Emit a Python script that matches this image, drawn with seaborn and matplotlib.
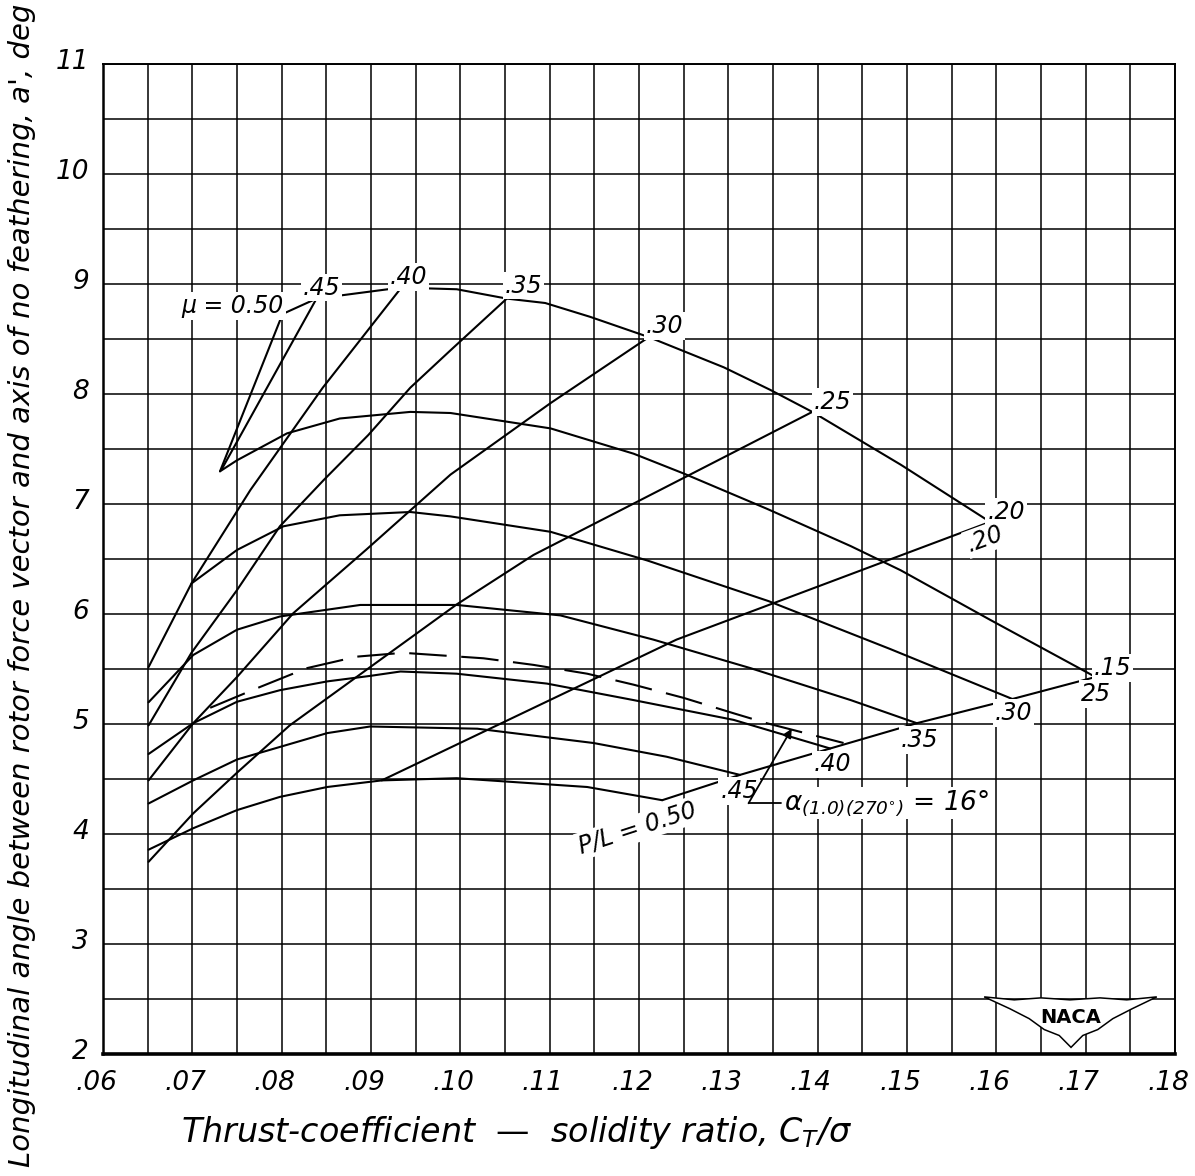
import matplotlib
matplotlib.use("Agg")
import numpy as np
import pandas as pd
import matplotlib.pyplot as plt
import seaborn as sns
from matplotlib.patches import Polygon
from matplotlib.ticker import MultipleLocator, FuncFormatter
from matplotlib.transforms import ScaledTranslation

# ---------------------------------------------------------------------------
# Carpet of a' (deg) against C_T/sigma
# Lines of constant tip-speed ratio mu
mu_050_x = [0.0731, 0.0801]
mu_050_y = [7.30, 8.73]
mu_045_x = [0.0733, 0.0839]
mu_045_y = [7.32, 8.87]
mu_040_x = [0.0651, 0.0699, 0.0765, 0.0846, 0.0933]
mu_040_y = [5.52, 6.28, 7.13, 8.06, 8.96]
mu_035_x = [0.0651, 0.0699, 0.0750, 0.0798, 0.0847, 0.0897, 0.0944, 0.0989, 0.1052]
mu_035_y = [4.99, 5.65, 6.22, 6.80, 7.22, 7.63, 8.06, 8.40, 8.87]
mu_030_x = [0.0651, 0.0701, 0.0750, 0.0813, 0.0895, 0.0989, 0.1101, 0.1211]
mu_030_y = [4.49, 5.01, 5.43, 6.01, 6.59, 7.27, 7.92, 8.52]
mu_025_x = [0.0651, 0.0701, 0.0750, 0.0809, 0.0996, 0.1082, 0.1394]
mu_025_y = [3.75, 4.19, 4.56, 4.99, 6.09, 6.54, 7.84]
mu_020_x = [0.0912, 0.1242, 0.1593]
mu_020_y = [4.49, 5.77, 6.84]
mu_015_x = [0.1226, 0.1313, 0.1414, 0.1511, 0.1618, 0.1711]
mu_015_y = [4.31, 4.54, 4.78, 5.01, 5.23, 5.43]

# Lines of constant P/L
pl_020_x = [0.0801, 0.0839, 0.0933, 0.0996, 0.1052, 0.1095, 0.1145, 0.1211,
            0.1295, 0.1347, 0.1394, 0.1493, 0.1593]
pl_020_y = [8.73, 8.87, 8.97, 8.955, 8.87, 8.83, 8.705, 8.52,
            8.245, 8.04, 7.84, 7.36, 6.84]
pl_025_x = [0.0731, 0.0750, 0.0806, 0.0865, 0.0944, 0.0989, 0.1101, 0.1194,
            0.1250, 0.1343, 0.1437, 0.1493, 0.1593, 0.1711]
pl_025_y = [7.30, 7.40, 7.645, 7.78, 7.84, 7.83, 7.69, 7.46,
            7.28, 6.96, 6.62, 6.40, 5.95, 5.43]
pl_030_x = [0.0699, 0.0750, 0.0802, 0.0865, 0.0944, 0.0989, 0.1101, 0.1209,
            0.1345, 0.1481, 0.1618]
pl_030_y = [6.28, 6.585, 6.80, 6.90, 6.93, 6.89, 6.75, 6.49,
            6.12, 5.685, 5.23]
pl_035_x = [0.0651, 0.0701, 0.0750, 0.0798, 0.0888, 0.0996, 0.1112, 0.1216,
            0.1325, 0.1437, 0.1511]
pl_035_y = [5.20, 5.63, 5.86, 5.98, 6.085, 6.085, 5.99, 5.77,
            5.51, 5.22, 5.01]
pl_040_x = [0.0651, 0.0701, 0.0750, 0.0798, 0.0851, 0.0899, 0.0933, 0.0996,
            0.1097, 0.1194, 0.1306, 0.1414]
pl_040_y = [4.73, 5.01, 5.205, 5.31, 5.39, 5.44, 5.48, 5.46,
            5.37, 5.22, 5.04, 4.78]
pl_045_x = [0.0651, 0.0701, 0.0750, 0.0851, 0.0899, 0.1019, 0.1149, 0.1231, 0.1313]
pl_045_y = [4.28, 4.49, 4.68, 4.92, 4.98, 4.96, 4.83, 4.705, 4.54]
pl_050_x = [0.0651, 0.0701, 0.0750, 0.0798, 0.0851, 0.0912, 0.0996, 0.1142, 0.1226]
pl_050_y = [3.86, 4.055, 4.22, 4.34, 4.43, 4.49, 4.51, 4.43, 4.31]

# Dashed line of constant alpha_(1.0)(270 deg) = 16 deg
alpha16_x = [0.0720, 0.0776, 0.0828, 0.0884, 0.0936, 0.1026, 0.1082, 0.1142,
             0.1194, 0.1250, 0.1306, 0.1343, 0.1429]
alpha16_y = [5.15, 5.34, 5.51, 5.615, 5.65, 5.60, 5.54, 5.46,
             5.36, 5.24, 5.10, 5.01, 4.83]

mu_values = [0.50, 0.45, 0.40, 0.35, 0.30, 0.25, 0.20, 0.15]
mu_labels = ["\u03bc = 0.50", ".45", ".40", ".35", ".30", ".25", ".20", ".15"]
pl_values = [0.20, 0.25, 0.30, 0.35, 0.40, 0.45, 0.50]
pl_labels = [".20", "25", ".30", ".35", ".40", ".45", "P/L = 0.50"]

# ---------------------------------------------------------------------------
mu_xy = {0.50: (mu_050_x, mu_050_y), 0.45: (mu_045_x, mu_045_y),
         0.40: (mu_040_x, mu_040_y), 0.35: (mu_035_x, mu_035_y),
         0.30: (mu_030_x, mu_030_y), 0.25: (mu_025_x, mu_025_y),
         0.20: (mu_020_x, mu_020_y), 0.15: (mu_015_x, mu_015_y)}
pl_xy = {0.20: (pl_020_x, pl_020_y), 0.25: (pl_025_x, pl_025_y),
         0.30: (pl_030_x, pl_030_y), 0.35: (pl_035_x, pl_035_y),
         0.40: (pl_040_x, pl_040_y), 0.45: (pl_045_x, pl_045_y),
         0.50: (pl_050_x, pl_050_y)}

rows = []
for fam, table in (("mu", mu_xy), ("pl", pl_xy)):
    for level, (xs, ys) in table.items():
        for order, (xv, yv) in enumerate(zip(xs, ys)):
            rows.append({"family": fam, "curve": f"{fam}{level:.2f}",
                         "order": order, "ct_sigma": xv, "angle": yv})
carpet = pd.DataFrame(rows)
dashed = pd.DataFrame({"ct_sigma": alpha16_x, "angle": alpha16_y})

sns.set_theme(style="white")
plt.rcParams["font.family"] = ["DejaVu Sans"]
plt.rcParams["font.style"] = "italic"
plt.rcParams["mathtext.fontset"] = "dejavusans"
plt.rcParams["mathtext.default"] = "it"
plt.rcParams["text.color"] = "black"
plt.rcParams["axes.labelcolor"] = "black"

fig = plt.figure(figsize=(11.95, 11.76), dpi=100)
ax = fig.add_axes([0.08619, 0.10349, 0.89707, 0.84183])

ax.set_xlim(0.06, 0.18)
ax.set_ylim(2, 11)
ax.xaxis.set_major_locator(MultipleLocator(0.01))
ax.xaxis.set_minor_locator(MultipleLocator(0.005))
ax.yaxis.set_major_locator(MultipleLocator(1))
ax.yaxis.set_minor_locator(MultipleLocator(0.5))
ax.xaxis.set_major_formatter(FuncFormatter(lambda v, p: "." + f"{int(round(v * 100)):02d}"))
ax.yaxis.set_major_formatter(FuncFormatter(lambda v, p: f"{int(round(v))}"))
ax.grid(True, which="both", color="black", lw=1.1)
ax.set_axisbelow(True)
ax.tick_params(which="both", length=0, labelsize=19, colors="black")
ax.tick_params(axis="x", pad=11)
ax.tick_params(axis="y", pad=10)
shift_left = ScaledTranslation(-0.07, 0, fig.dpi_scale_trans)
shift_up = ScaledTranslation(0, 0.05, fig.dpi_scale_trans)
for lab in ax.get_xticklabels():
    lab.set_fontstyle("italic")
    lab.set_transform(lab.get_transform() + shift_left)
for lab in ax.get_yticklabels():
    lab.set_fontstyle("italic")
    lab.set_transform(lab.get_transform() + shift_up)
for side, sp in ax.spines.items():
    sp.set_color("black")
    sp.set_linewidth(1.4)
ax.spines["bottom"].set_linewidth(2.6)
ax.spines["left"].set_linewidth(1.8)

for fam in ("mu", "pl"):
    sns.lineplot(data=carpet[carpet.family == fam], x="ct_sigma", y="angle",
                 units="curve", estimator=None, sort=False, color="black",
                 lw=1.5, ax=ax, legend=False, zorder=3)

sns.lineplot(data=dashed, x="ct_sigma", y="angle", estimator=None, sort=False,
             color="black", lw=1.5, ax=ax, legend=False, zorder=3)
ax.lines[-1].set_dashes([18, 7])

ax.set_xlabel("")
ax.set_ylabel("")

lab_kw = dict(textcoords="offset pixels", fontsize=17, fontstyle="italic",
              ha="center", va="center", zorder=5, color="black",
              bbox=dict(boxstyle="square,pad=0.08", fc="white", ec="none"))

mu_offsets = [(-50, 8), (5, 11), (8, 12), (17, 13), (16, 11), (20, 10), (16, 10), (17, 9)]
for mu, text, off in zip(mu_values, mu_labels, mu_offsets):
    xs, ys = mu_xy[mu]
    ax.annotate(text, xy=(xs[-1], ys[-1]), xytext=off, **lab_kw)

# P/L labels sit at the outer end of each P/L line
pl_offsets = [(-5, -17), (0, -17), (1, -14), (3, -17), (2, -16), (-1, -16), (-25, -28)]
pl_rot = [20, 0, 0, 0, 0, 0, 18]
for pl, text, off, rot in zip(pl_values, pl_labels, pl_offsets, pl_rot):
    xs, ys = pl_xy[pl]
    ax.annotate(text, xy=(xs[-1], ys[-1]), xytext=off, rotation=rot, **lab_kw)

# pointer to the dashed line
tail = (0.13226, 4.282)
ax.annotate("", xy=(alpha16_x[11] + 0.0028, alpha16_y[11] - 0.05), xytext=tail,
            arrowprops=dict(arrowstyle="-|>", color="black", lw=1.3,
                            mutation_scale=13, shrinkA=0, shrinkB=0), zorder=5)
ax.plot([tail[0], tail[0] + 0.0036], [tail[1], tail[1]], color="black", lw=1.3, zorder=5)
ax.text(tail[0] + 0.0040, tail[1], r"$\alpha_{(1.0)(270^{\circ})}$ = 16°",
        fontsize=19, ha="left", va="center", zorder=5, color="black",
        bbox=dict(boxstyle="square,pad=0.05", fc="white", ec="none"))

# NACA wings
wing = np.array([[0.822, 0.058], [0.850, 0.055], [0.875, 0.057], [0.902, 0.055],
                 [0.930, 0.057], [0.955, 0.055], [0.983, 0.058],
                 [0.960, 0.046], [0.942, 0.036], [0.928, 0.025], [0.914, 0.019],
                 [0.903, 0.007], [0.892, 0.019], [0.878, 0.025], [0.864, 0.036],
                 [0.846, 0.046]])
ax.add_patch(Polygon(wing, closed=True, transform=ax.transAxes, fc="white",
                     ec="black", lw=1.1, zorder=6))
ax.text(0.903, 0.037, "NACA", transform=ax.transAxes, fontsize=14,
        fontweight="bold", fontstyle="normal", ha="center", va="center",
        color="black", zorder=7)

fig.text(0.4326, 0.0366, "Thrust-coefficient  \u2014  solidity ratio, $C_T/\\sigma$",
         fontsize=24, ha="center", va="center", fontstyle="italic", color="black")
fig.text(0.0184, 0.5026,
         "Longitudinal angle between rotor force vector and axis of no feathering, a', deg",
         fontsize=21, rotation=90, ha="center", va="center", fontstyle="italic",
         color="black")

fig.savefig("out.png", dpi=100, facecolor="white")
